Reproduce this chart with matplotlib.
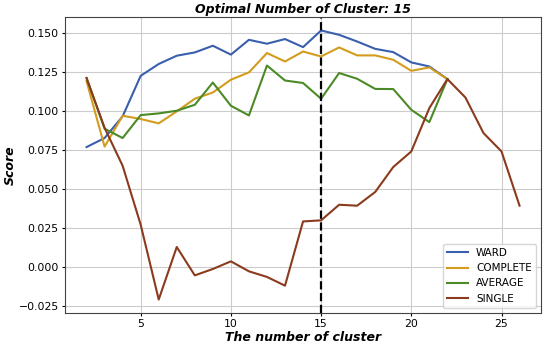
import matplotlib
matplotlib.use('Agg')
import matplotlib.pyplot as plt

n_ward = list(range(2, 23))
ward = [0.0767, 0.0825, 0.0964, 0.1224, 0.1300, 0.1353, 0.1374, 0.1417, 0.1360, 0.1455,
        0.1430, 0.1460, 0.1408, 0.1515, 0.1487, 0.1444, 0.1397, 0.1376, 0.1310, 0.1284, 0.1203]
n_complete = list(range(2, 23))
complete = [0.1190, 0.0770, 0.0968, 0.0947, 0.0919, 0.0996, 0.1077, 0.1117, 0.1199, 0.1246,
            0.1370, 0.1316, 0.1380, 0.1348, 0.1406, 0.1355, 0.1355, 0.1327, 0.1256, 0.1278, 0.1203]
n_average = list(range(2, 23))
average = [0.1210, 0.0885, 0.0825, 0.0972, 0.0983, 0.1000, 0.1038, 0.1181, 0.1032, 0.0970,
           0.1290, 0.1194, 0.1178, 0.1077, 0.1242, 0.1205, 0.1140, 0.1139, 0.1006, 0.0927, 0.1203]
n_single = list(range(2, 27))
single = [0.1210, 0.0890, 0.0647, 0.0269, -0.0211, 0.0126, -0.0056, -0.0015, 0.0034, -0.0030,
          -0.0066, -0.0122, 0.0290, 0.0297, 0.0397, 0.0391, 0.0479, 0.0639, 0.0739, 0.1017,
          0.1203, 0.1085, 0.0857, 0.0739, 0.0391]
best_k = 15

fig = plt.figure(figsize=(5.5, 3.47), dpi=100)
ax = fig.add_axes([0.118, 0.098, 0.866, 0.853])
ax.plot(n_ward, ward, color='#3a5fae', lw=1.5, label='WARD')
ax.plot(n_complete, complete, color='#d39c1c', lw=1.5, label='COMPLETE')
ax.plot(n_average, average, color='#4b8a27', lw=1.5, label='AVERAGE')
ax.plot(n_single, single, color='#8a3b1d', lw=1.5, label='SINGLE')
ax.axvline(best_k, color='black', ls='--', lw=1.6)
ax.grid(True, color='#cccccc', lw=0.8)
ax.set_axisbelow(True)
for s in ax.spines.values():
    s.set_color('#444444')
ax.tick_params(labelsize=7.8, length=2.5, pad=2)
ax.set_xticks([5, 10, 15, 20, 25])
ax.set_title('Optimal Number of Cluster: %d' % best_k, fontsize=9, fontweight='bold', style='italic', pad=3)
ax.set_xlabel('The number of cluster', fontsize=9, fontweight='bold', style='italic', labelpad=1)
ax.set_ylabel('Score', fontsize=9, fontweight='bold', style='italic')
ax.yaxis.set_label_coords(-0.10, 0.5)
ax.legend(loc='lower right', fontsize=7.5)
plt.savefig('out.png', dpi=100)
